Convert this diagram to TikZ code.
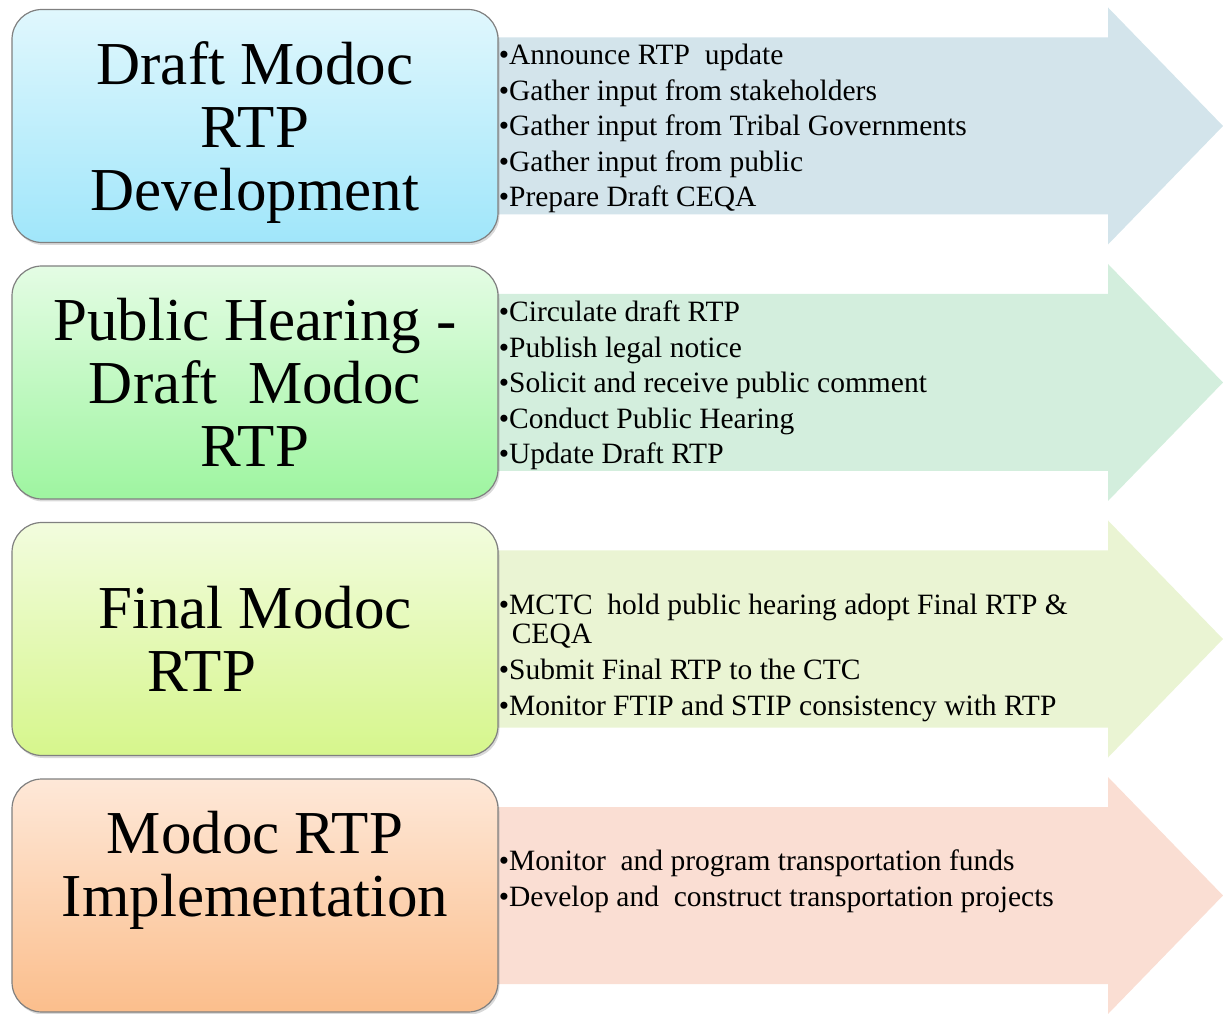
\documentclass[tikz,border=0pt]{standalone}
\usepackage{fontspec}
\setmainfont{Liberation Serif}
\usetikzlibrary{shadows}

% arrow fills
\definecolor{arrowblue}{RGB}{211,228,235}
\definecolor{arrowgreen}{RGB}{211,238,221}
\definecolor{arrowlime}{RGB}{234,244,211}
\definecolor{arroworange}{RGB}{250,222,211}
% box gradients
\definecolor{topblue}{RGB}{224,247,253}
\definecolor{botblue}{RGB}{160,230,250}
\definecolor{topgreen}{RGB}{228,252,228}
\definecolor{botgreen}{RGB}{158,245,160}
\definecolor{toplime}{RGB}{242,252,222}
\definecolor{botlime}{RGB}{214,246,140}
\definecolor{toporange}{RGB}{254,232,216}
\definecolor{botorange}{RGB}{251,190,140}

\tikzset{
	stage/.style={rectangle, rounded corners=30pt, draw=black!50, line width=1.2pt,
		minimum width=486pt, minimum height=233pt, inner sep=0pt, align=center,
		font=\fontsize{61}{63}\selectfont,
		drop shadow={shadow xshift=1.5pt, shadow yshift=-2.5pt, opacity=0.3}},
	tasks/.style={anchor=north west, inner sep=0pt, align=left,
		font=\fontsize{29.5}{30}\selectfont},
}

\begin{document}
\begin{tikzpicture}[x=1pt, y=1pt]
			\useasboundingbox (0,0) rectangle (1223,1013);
			% big arrows behind the boxes
			\fill [arrowblue] (470,975.5) -- (1108,975.5) -- (1108,1005.5) -- (1223,887) -- (1108,768.5) -- (1108,798.5) -- (470,798.5) -- cycle;
			\fill [arrowgreen] (470,719) -- (1108,719) -- (1108,749) -- (1223,630.5) -- (1108,512) -- (1108,542) -- (470,542) -- cycle;
			\fill [arrowlime] (470,462.5) -- (1108,462.5) -- (1108,492.5) -- (1223,374) -- (1108,255.5) -- (1108,285.5) -- (470,285.5) -- cycle;
			\fill [arroworange] (470,206) -- (1108,206) -- (1108,236) -- (1223,117.5) -- (1108,-1) -- (1108,29) -- (470,29) -- cycle;
			% stages
			\node [stage, top color=topblue, bottom color=botblue] (draft) at (255,887) {Draft Modoc\\RTP\\\smash{Development}};
			\node [stage, top color=topgreen, bottom color=botgreen] (hearing) at (255,630.5) {Public Hearing -\\Draft~ Modoc\\RTP};
			\node [stage, top color=toplime, bottom color=botlime] (final) at (255,374) {Final Modoc\\RTP\hspace*{106pt}};
			\node [stage, top color=toporange, bottom color=botorange] (implement) at (255,117.5) {Modoc RTP\\Implementation\\\mbox{}};
			% task lists
			\node [tasks] (draftlist) at ([yshift=82pt]draft.east) {%
				•Announce RTP~ update\\[5.5pt]
				•Gather input from stakeholders\\[5.5pt]
				•Gather input from Tribal Governments\\[5.5pt]
				•Gather input from public\\[5.5pt]
				•Prepare Draft CEQA};
			\node [tasks] (hearinglist) at ([yshift=81.5pt]hearing.east) {%
				•Circulate draft RTP\\[5.5pt]
				•Publish legal notice\\[5.5pt]
				•Solicit and receive public comment\\[5.5pt]
				•Conduct Public Hearing\\[5.5pt]
				•Update Draft RTP};
			\node [tasks] (finallist) at ([yshift=45.5pt]final.east) {%
				•MCTC~ hold public hearing adopt Final RTP \&\\[-1pt]
				\hspace*{13pt}CEQA\\[6pt]
				•Submit Final RTP to the CTC\\[6pt]
				•Monitor FTIP and STIP consistency with RTP};
			\node [tasks] (implementlist) at ([yshift=45.5pt]implement.east) {%
				•Monitor~ and program transportation funds\\[5.5pt]
				•Develop and~ construct transportation projects};
\end{tikzpicture}
\end{document}
